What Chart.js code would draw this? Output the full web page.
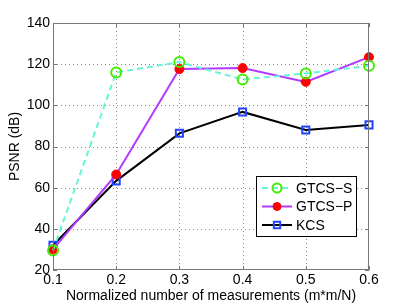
<!DOCTYPE html>
<html>
<head>
<meta charset="utf-8">
<script src="https://cdn.jsdelivr.net/npm/chart.js@4"></script>
<style>
  html, body { margin: 0; padding: 0; background: #fff; }
  #wrap { width: 407px; height: 306px; }
</style>
</head>
<body>
<div id="wrap"><canvas id="chart" width="407" height="306"></canvas></div>
<script>
const measurements = [0.1, 0.2, 0.3, 0.4, 0.5, 0.6];
const gtcsS = [29.5, 116, 121, 112.6, 115.5, 119.2];
const gtcsP = [30, 66.4, 117.6, 118.1, 111.4, 123.4];
const kcs = [32, 63.3, 86.4, 96.8, 88, 90.5];
const yTicks = [20, 40, 60, 80, 100, 120, 140];
const FONT = '"Liberation Sans", Arial, sans-serif';

function toPoints(values) {
    return measurements.map((x, i) => ({ x: x, y: values[i] }));
}

// dotted grid, drawn under the lines
const gridPlugin = {
    id: 'dottedGrid',
    beforeDatasetsDraw(chart) {
        const ctx = chart.ctx;
        const a = chart.chartArea;
        const xs = chart.scales.x, ys = chart.scales.y;
        ctx.save();
        ctx.strokeStyle = '#888';
        ctx.lineWidth = 1;
        ctx.setLineDash([1, 3]);
        ctx.beginPath();
        measurements.slice(1, -1).forEach(v => {
            const px = Math.round(xs.getPixelForValue(v)) + 0.5;
            ctx.moveTo(px, a.top); ctx.lineTo(px, a.bottom);
        });
        yTicks.slice(1, -1).forEach(v => {
            const py = Math.round(ys.getPixelForValue(v)) + 0.5;
            ctx.moveTo(a.left, py); ctx.lineTo(a.right, py);
        });
        ctx.stroke();
        ctx.restore();
    }
};

// matlab-ish frame, inward ticks and boxed legend
const framePlugin = {
    id: 'frame',
    afterDatasetsDraw(chart) {
        const ctx = chart.ctx;
        const a = chart.chartArea;
        const xs = chart.scales.x, ys = chart.scales.y;
        ctx.save();
        ctx.strokeStyle = '#777';
        ctx.lineWidth = 1;
        ctx.strokeRect(a.left + 0.5, a.top + 0.5, a.right - a.left - 1, a.bottom - a.top - 1);
        ctx.beginPath();
        measurements.forEach(v => {
            const px = Math.round(xs.getPixelForValue(v)) + 0.5;
            ctx.moveTo(px, a.bottom); ctx.lineTo(px, a.bottom - 4);
            ctx.moveTo(px, a.top); ctx.lineTo(px, a.top + 4);
        });
        yTicks.forEach(v => {
            const py = Math.round(ys.getPixelForValue(v)) + 0.5;
            ctx.moveTo(a.left, py); ctx.lineTo(a.left + 4, py);
            ctx.moveTo(a.right, py); ctx.lineTo(a.right - 4, py);
        });
        ctx.stroke();

        // legend box
        const lx = 256, ly = 176, lw = 100, lh = 60;
        ctx.fillStyle = '#fff';
        ctx.fillRect(lx, ly, lw, lh);
        ctx.strokeStyle = '#000';
        ctx.strokeRect(lx + 0.5, ly + 0.5, lw, lh);
        chart.data.datasets.forEach((ds, i) => {
            const cy = ly + 12 + i * 18.5;
            ctx.strokeStyle = ds.borderColor;
            ctx.lineWidth = ds.borderWidth;
            ctx.setLineDash(ds.borderDash || []);
            ctx.beginPath();
            ctx.moveTo(lx + 6, cy); ctx.lineTo(lx + 36, cy);
            ctx.stroke();
            ctx.setLineDash([]);
            ctx.fillStyle = ds.pointBackgroundColor;
            ctx.strokeStyle = ds.pointBorderColor;
            ctx.lineWidth = ds.pointBorderWidth;
            Chart.helpers.drawPoint(ctx, {
                pointStyle: ds.pointStyle,
                radius: ds.pointRadius - 0.5,
                borderWidth: ds.pointBorderWidth
            }, lx + 21, cy);
            ctx.fillStyle = '#000';
            ctx.font = '14px ' + FONT;
            ctx.textBaseline = 'middle';
            ctx.fillText(ds.label, lx + 40, cy + 1);
        });
        ctx.restore();
    }
};

const ctx = document.getElementById('chart').getContext('2d');
const chart = new Chart(ctx, {
    type: 'line',
    data: {
        datasets: [
            {
                label: 'GTCS\u2212S',
                data: toPoints(gtcsS),
                borderColor: '#66f5d8',
                borderWidth: 2,
                borderDash: [6, 4],
                pointStyle: 'circle',
                pointRadius: 5,
                pointBorderWidth: 2,
                pointBorderColor: '#44ee00',
                pointBackgroundColor: 'rgba(0,0,0,0)',
                clip: false
            },
            {
                label: 'GTCS\u2212P',
                data: toPoints(gtcsP),
                borderColor: '#b038ff',
                borderWidth: 2,
                pointStyle: 'circle',
                pointRadius: 4.5,
                pointBorderWidth: 1,
                pointBorderColor: '#ff0000',
                pointBackgroundColor: '#ff0000',
                clip: false
            },
            {
                label: 'KCS',
                data: toPoints(kcs),
                borderColor: '#000000',
                borderWidth: 2,
                pointStyle: 'rect',
                pointRadius: 5,
                pointBorderWidth: 2,
                pointBorderColor: '#2244ff',
                pointBackgroundColor: 'rgba(0,0,0,0)',
                clip: false
            }
        ]
    },
    options: {
        responsive: false,
        animation: false,
        tension: 0,
        layout: { padding: { top: 23, right: 38, left: 7, bottom: 0 } },
        plugins: {
            legend: { display: false },
            tooltip: { enabled: false }
        },
        scales: {
            x: {
                type: 'linear',
                min: 0.1,
                max: 0.6,
                afterFit(scale) { scale.height = 36; },
                afterBuildTicks(scale) {
                    scale.ticks = measurements.map(v => ({ value: v }));
                },
                ticks: {
                    color: '#000',
                    font: { family: FONT, size: 14 },
                    padding: 2,
                    maxRotation: 0,
                    callback: v => v.toFixed(1)
                },
                grid: { display: false, drawTicks: false, tickLength: 0 },
                border: { display: false },
                title: {
                    display: true,
                    text: 'Normalized number of measurements (m*m/N)',
                    color: '#000',
                    font: { family: FONT, size: 14 },
                    padding: { top: 0, bottom: 1 }
                }
            },
            y: {
                min: 20,
                max: 140,
                afterFit(scale) { scale.width = 46; },
                afterBuildTicks(scale) {
                    scale.ticks = yTicks.map(v => ({ value: v }));
                },
                ticks: {
                    color: '#000',
                    font: { family: FONT, size: 14 },
                    padding: 3
                },
                grid: { display: false, drawTicks: false, tickLength: 0 },
                border: { display: false },
                title: {
                    display: true,
                    text: 'PSNR (dB)',
                    color: '#000',
                    font: { family: FONT, size: 14 },
                    padding: { top: 0, bottom: 0 }
                }
            }
        }
    },
    plugins: [gridPlugin, framePlugin]
});
</script>
</body>
</html>
